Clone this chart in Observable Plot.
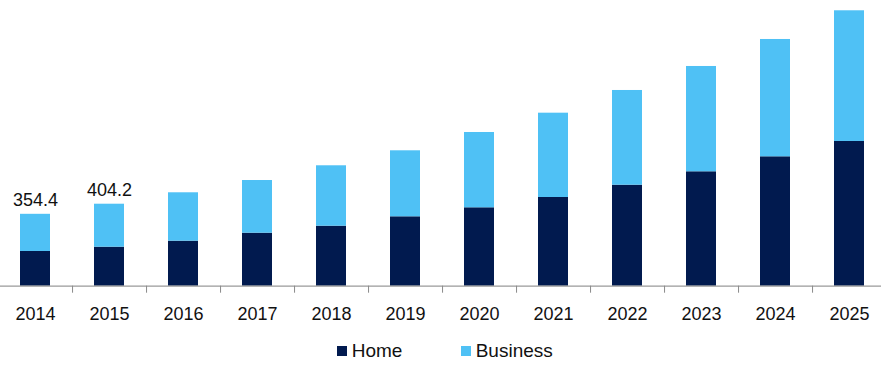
<!DOCTYPE html>
<html>
<head>
<meta charset="utf-8">
<script src="https://cdn.jsdelivr.net/npm/d3@7"></script>
<script src="https://cdn.jsdelivr.net/npm/@observablehq/plot@0.6"></script>
<style>
  html, body { margin: 0; padding: 0; background: #fff; }
  body { width: 881px; font-family: "Liberation Sans", Arial, sans-serif; color: #111; }
  #legend { position: relative; height: 35px; font-size: 19px; line-height: 22px; }
  .item { position: absolute; top: 5px; display: flex; align-items: center; }
  .sw { width: 10px; height: 10px; margin-right: 5px; }
</style>
</head>
<body>
<div id="chart"></div>
<div id="legend"></div>
<script>
const years = ["2014","2015","2016","2017","2018","2019","2020","2021","2022","2023","2024","2025"];
const home =     [171.1, 192.3, 221.9, 261.3, 295.8, 342.1, 386.5, 437.3, 497.9, 564.0, 637.9, 713.4];
const business = [183.3, 211.9, 238.6, 259.7, 297.8, 325.4, 371.2, 415.6, 466.9, 519.1, 578.3, 644.3];
const seriesNames = ["Home", "Business"];
const seriesColors = ["#011a4f", "#4fc1f5"];
const labelYears = ["2014", "2015"];
const labelValues = [354.4, 404.2];

const rows = [];
years.forEach((y, i) => rows.push({year: y, series: "Home", value: home[i]}));
years.forEach((y, i) => rows.push({year: y, series: "Business", value: business[i]}));
const labels = labelYears.map((y, i) => ({year: y, total: labelValues[i]}));

const step = 74.1;
const chart = Plot.plot({
  width: 881,
  height: 335,
  marginTop: 1.7,
  marginBottom: 49.3,
  marginLeft: 0,
  marginRight: 0,
  style: {fontFamily: "'Liberation Sans', Arial, sans-serif", fontSize: "18px", color: "#111", background: "#fff"},
  x: {type: "band", domain: years, range: [-2.74, -2.74 + 12 * step], paddingInner: 0.595, paddingOuter: 0.2975, axis: null, label: null},
  y: {domain: [0, 1400], axis: null},
  color: {domain: seriesNames, range: seriesColors},
  marks: [
    Plot.barY(rows, {x: "year", y: "value", fill: "series", inset: 0}),
    Plot.ruleY([0], {stroke: "#9a9a9a", strokeWidth: 1.2}),
    Plot.axisX({tickSize: 7, tickFormat: () => "", dx: step / 2, stroke: "#8a8a8a", label: null}),
    Plot.axisX({tickSize: 0, tickPadding: 21, fontSize: 18, fill: "#111", label: null}),
    Plot.text(labels, {x: "year", y: "total", text: d => d.total.toFixed(1), lineAnchor: "bottom", dy: -8.5, fontSize: 18, fill: "#111"})
  ]
});
document.getElementById("chart").append(chart);

const legend = document.getElementById("legend");
const lefts = [336.7, 460.7];
seriesNames.forEach((name, i) => {
  const it = document.createElement("div");
  it.className = "item";
  it.style.left = lefts[i] + "px";
  const sw = document.createElement("span");
  sw.className = "sw";
  sw.style.background = seriesColors[i];
  const tx = document.createElement("span");
  tx.textContent = name;
  it.append(sw, tx);
  legend.append(it);
});
</script>
</body>
</html>
